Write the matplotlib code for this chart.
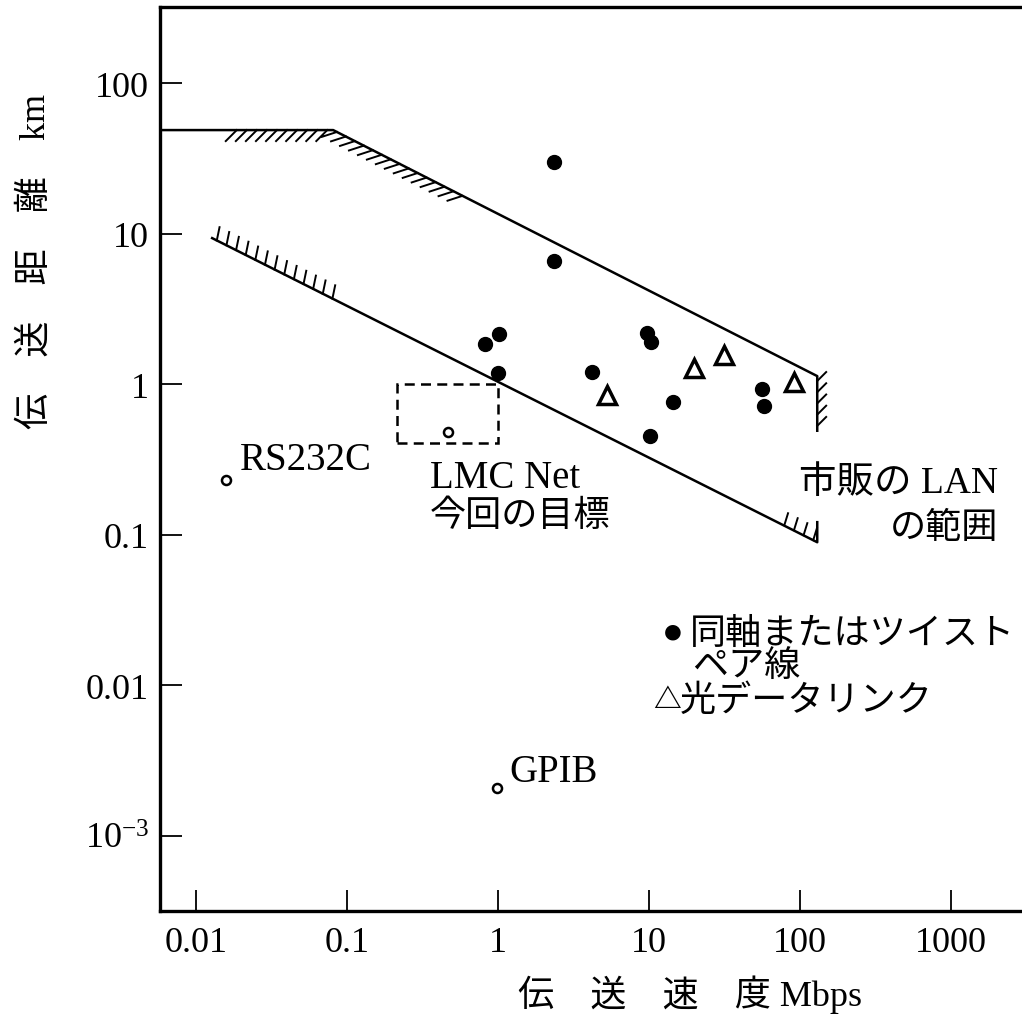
import matplotlib
matplotlib.use('Agg')
import matplotlib.pyplot as plt
from matplotlib import patheffects
from matplotlib.patches import Rectangle
from matplotlib.ticker import NullLocator

plt.rcParams['font.family'] = ['Liberation Serif', 'Noto Sans CJK JP']
plt.rcParams['mathtext.fontset'] = 'custom'
plt.rcParams['mathtext.rm'] = 'Liberation Serif'

# ===== Data ===== #

# coax / twisted pair LANs (filled dots)
coax_rate = [2.35, 2.35, 0.82, 1.02, 1.0, 4.2, 9.7, 10.3, 14.4, 10.2, 56, 58]
coax_dist = [30, 6.6, 1.85, 2.15, 1.18, 1.2, 2.2, 1.9, 0.76, 0.45, 0.93, 0.72]

# optical data links (open triangles)
optical_rate = [5.3, 19.9, 31.4, 91]
optical_dist = [0.85, 1.28, 1.56, 1.03]

# other interfaces (small open circles)
other_names = ['RS232C', 'GPIB', 'LMC Net']
other_rate = [0.0158, 0.99, 0.467]
other_dist = [0.230, 0.00207, 0.48]

# boundary of commercial LANs
upper_x = [0.0058, 0.081, 130, 130]
upper_y = [48.7, 48.7, 1.13, 0.49]
lower_x = [0.0128, 130, 130]
lower_y = [9.33, 0.089, 0.121]

# hatched parts of the boundary
hatch_upper_x = [0.0173, 0.081, 0.62]
hatch_upper_y = [48.7, 48.7, 17.2]
hatch_lower_x = [0.0128, 0.086]
hatch_lower_y = [9.33, 3.57]
hatch_right_x = [130, 130]
hatch_right_y = [1.13, 0.49]
hatch_corner_x = [74, 130]
hatch_corner_y = [0.119, 0.089]

# LMC Net target box
box_x = [0.214, 1.0]
box_y = [0.405, 1.0]

x_ticks = [0.01, 0.1, 1, 10, 100, 1000]
x_labels = ['0.01', '0.1', '1', '10', '100', '1000']
y_ticks = [1e-3, 0.01, 0.1, 1, 10, 100]
y_labels = [r'$\mathregular{10^{-3}}$', '0.01', '0.1', '1', '10', '100']

# ===== Figure ===== #

W, H = 1022, 1020
fig = plt.figure(figsize=(W / 100, H / 100), dpi=100)
ax = fig.add_axes([160 / W, 1 - 912 / H, 862 / W, 904 / H])


def px(x, y):
    # pixel position in the picture -> figure fraction
    return x / W, 1 - y / H


ax.set_xscale('log')
ax.set_yscale('log')
ax.set_xlim(0.00578, 2950)
ax.set_ylim(3.16e-4, 320)

# boundary lines
ax.plot(upper_x, upper_y, color='black', lw=1.8)
ax.plot(lower_x, lower_y, color='black', lw=1.8)

hatch = dict(color='black', lw=1.4)
ax.plot(hatch_upper_x, hatch_upper_y, **hatch,
        path_effects=[patheffects.TickedStroke(spacing=7, angle=-135, length=1.6)])
ax.plot(hatch_lower_x, hatch_lower_y, **hatch,
        path_effects=[patheffects.TickedStroke(spacing=7.5, angle=105, length=1.3)])
ax.plot(hatch_right_x, hatch_right_y, **hatch,
        path_effects=[patheffects.TickedStroke(spacing=7, angle=135, length=1.3)])
ax.plot(hatch_corner_x, hatch_corner_y, **hatch,
        path_effects=[patheffects.TickedStroke(spacing=6.5, angle=100, length=1.4)])

# target box
ax.add_patch(Rectangle((box_x[0], box_y[0]), box_x[1] - box_x[0], box_y[1] - box_y[0],
                       fill=False, ls=(0, (4, 2.5)), lw=1.8, color='black'))

# markers
ax.plot(coax_rate, coax_dist, 'o', color='black', ms=10, ls='none')
ax.plot(optical_rate, optical_dist, '^', mfc='white', mec='black', mew=2.5,
        ms=13, ls='none')
ax.plot(other_rate, other_dist, 'o', mfc='white', mec='black', mew=1.8,
        ms=6.5, ls='none')

# labels next to points
ax.annotate(other_names[0], (other_rate[0], other_dist[0]), xytext=(10, 8),
            textcoords='offset points', fontsize=28, va='baseline')
ax.annotate(other_names[1], (other_rate[1], other_dist[1]), xytext=(9, 5),
            textcoords='offset points', fontsize=28, va='baseline')
fig.text(*px(430, 488), other_names[2], fontsize=28, va='baseline')
fig.text(*px(430, 526), '今回の目標', fontsize=26, va='baseline')

fig.text(*px(998, 493), '市販の LAN', fontsize=27, va='baseline', ha='right')
fig.text(*px(998, 538), 'の範囲', fontsize=26, va='baseline', ha='right')

# legend
fig.text(*px(673, 634), '●', fontsize=26, ha='center', va='center')
fig.text(*px(690, 644), '同軸またはツイスト', fontsize=26, va='baseline')
fig.text(*px(692, 676), 'ペア線', fontsize=26, va='baseline')
fig.text(*px(667, 702), '△', fontsize=20, ha='center', va='center',
         fontweight='bold')
fig.text(*px(680, 711), '光データリンク', fontsize=26, va='baseline')

# axis labels
fig.text(*px(518, 995), '伝\u3000送\u3000速\u3000度 Mbps', fontsize=26,
         ha='left', va='center')
fig.text(*px(36, 261), '伝\u3000送\u3000距\u3000離\u3000km', fontsize=26,
         ha='center', va='center', rotation=90)

# ticks and spines
ax.set_xticks(x_ticks)
ax.set_xticklabels(x_labels)
ax.set_yticks(y_ticks)
ax.set_yticklabels(y_labels)
ax.xaxis.set_minor_locator(NullLocator())
ax.yaxis.set_minor_locator(NullLocator())
ax.tick_params(axis='x', direction='in', length=15, width=1.3, pad=11,
               labelsize=26)
ax.tick_params(axis='y', direction='in', length=16, width=1.3, pad=8,
               labelsize=26)

ax.spines['right'].set_visible(False)
for side in ['left', 'top', 'bottom']:
    ax.spines[side].set_linewidth(2.4)

fig.savefig('out.png', dpi=100)
